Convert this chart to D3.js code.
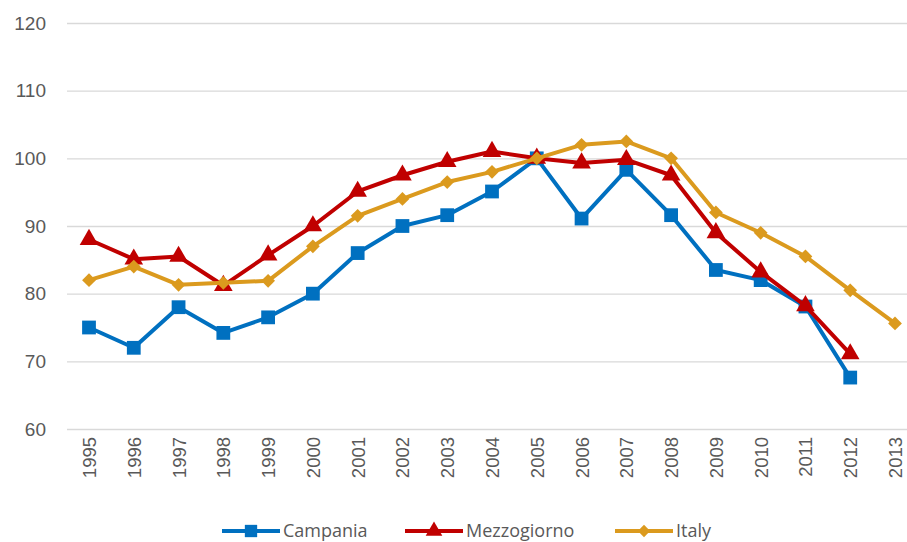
<!DOCTYPE html>
<meta charset="utf-8">
<body style="margin:0;background:#fff">
<script src="https://d3js.org/d3.v7.min.js"></script>
<script>
// data
var years = ["1995","1996","1997","1998","1999","2000","2001","2002","2003","2004","2005","2006","2007","2008","2009","2010","2011","2012","2013"];
var campania =    [75, 72, 78, 74.2, 76.5, 80, 86, 90, 91.6, 95.1, 100, 91.1, 98.3, 91.6, 83.5, 82, 78.1, 67.6, null];
var mezzogiorno = [88, 85.1, 85.5, 81.2, 85.7, 90, 95.1, 97.5, 99.5, 101, 100, 99.3, 99.8, 97.5, 89, 83.2, 78.2, 71.1, null];
var italy =       [82, 84, 81.3, 81.6, 81.9, 87, 91.5, 94, 96.5, 98, 100, 102, 102.5, 100, 92, 89, 85.5, 80.5, 75.6];
var yTicks = [60, 70, 80, 90, 100, 110, 120];
var seriesNames = ["Campania", "Mezzogiorno", "Italy"];

var W = 907, H = 542;
var svg = d3.select("body").append("svg")
	.attr("width", W)
	.attr("height", H)
	.style("font-family", "'Open Sans', sans-serif");

var x = d3.scalePoint().domain(years).range([89, 895]);
var y = d3.scaleLinear().domain([60, 120]).range([429, 23]);

//gridlines + y labels
var yAxis = d3.axisLeft(y).tickValues(yTicks).tickSize(-(W - 67)).tickPadding(21);
var gy = svg.append("g").attr("transform", "translate(67,0)").call(yAxis);
gy.select(".domain").remove();
gy.selectAll("line").attr("stroke", "#d9d9d9").attr("stroke-width", 1.3);
gy.selectAll("text").attr("fill", "#595959").attr("font-size", "19px");

//x labels, rotated
var xAxis = d3.axisBottom(x).tickSize(0);
var gx = svg.append("g").attr("transform", "translate(0,429)").call(xAxis);
gx.select(".domain").remove();
gx.selectAll("text")
	.attr("fill", "#595959")
	.attr("font-size", "18.5px")
	.attr("transform", "rotate(-90)")
	.attr("text-anchor", "end")
	.attr("x", -8)
	.attr("y", 0)
	.attr("dy", "0.35em");

var series = [
	{name: seriesNames[0], values: campania, color: "#0070C0", shape: d3.symbolSquare, size: 190, rot: 0},
	{name: seriesNames[1], values: mezzogiorno, color: "#C00000", shape: d3.symbolTriangle, size: 150, rot: 0},
	{name: seriesNames[2], values: italy, color: "#DB9A1E", shape: d3.symbolSquare, size: 95, rot: 45}
];

var line = d3.line()
	.defined(function(d){ return d != null; })
	.x(function(d, i){ return x(years[i]); })
	.y(function(d){ return y(d); });

series.forEach(function(s){
	var g = svg.append("g");
	g.append("path")
		.attr("d", line(s.values))
		.attr("fill", "none")
		.attr("stroke", s.color)
		.attr("stroke-width", 4)
		.attr("stroke-linejoin", "round");
	g.selectAll("path.m")
		.data(s.values.map(function(v, i){ return {v: v, i: i}; }).filter(function(d){ return d.v != null; }))
		.enter().append("path")
		.attr("class", "m")
		.attr("d", d3.symbol().type(s.shape).size(s.size))
		.attr("transform", function(d){ return "translate(" + x(years[d.i]) + "," + y(d.v) + ") rotate(" + s.rot + ")"; })
		.attr("fill", s.color);
});

//legend
var legendX = [222, 405, 615];
var legend = svg.append("g").attr("transform", "translate(0,531)");
series.forEach(function(s, i){
	var lg = legend.append("g").attr("transform", "translate(" + legendX[i] + ",0)");
	lg.append("line").attr("x1", 0).attr("x2", 58).attr("stroke", s.color).attr("stroke-width", 4);
	lg.append("path").attr("d", d3.symbol().type(s.shape).size(s.size * 0.8))
		.attr("transform", "translate(29,0) rotate(" + s.rot + ")").attr("fill", s.color);
	lg.append("text").attr("x", 61).attr("dy", "0.35em")
		.attr("font-size", "18px").attr("fill", "#595959")
		.text(s.name);
});
</script>
</body>
